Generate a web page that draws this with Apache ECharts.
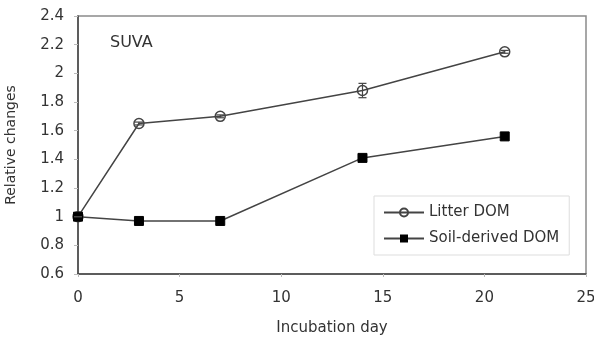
<!DOCTYPE html>
<html>
<head>
<meta charset="utf-8">
<script src="https://cdn.jsdelivr.net/npm/echarts@6/dist/echarts.min.js"></script>
<style>html,body{margin:0;padding:0;background:#fff;}#c{width:594px;height:341px;}</style>
</head>
<body>
<div id="c"></div>
<script>
var days = [0, 3, 7, 14, 21];
var litterDOM = [1.0, 1.65, 1.70, 1.88, 2.15];
var litterErr = [0, 0.01, 0.01, 0.05, 0.01];
var soilDOM = [1.0, 0.97, 0.97, 1.41, 1.56];
var xTicks = [0, 5, 10, 15, 20, 25];
var yTicks = [0.6, 0.8, 1.0, 1.2, 1.4, 1.6, 1.8, 2.0, 2.2, 2.4];

var chart = echarts.init(document.getElementById('c'));
var font = 'DejaVu Sans, sans-serif';
var errData = days.map(function (d, i) { return [d, litterDOM[i] - litterErr[i], litterDOM[i] + litterErr[i]]; });

chart.setOption({
  animation: false,
  textStyle: { fontFamily: font },
  grid: { left: 78, right: 8, top: 16, bottom: 67, show: true, borderColor: '#8a8a8a', borderWidth: 1.5,
          containLabel: false, outerBoundsMode: 'none' },
  xAxis: {
    type: 'value', min: xTicks[0], max: xTicks[xTicks.length - 1], interval: 5,
    name: 'Incubation day', nameLocation: 'middle', nameGap: 47,
    nameTextStyle: { fontSize: 15, color: '#333', fontFamily: font },
    axisLine: { lineStyle: { color: '#444', width: 1.5 } },
    axisTick: { show: true, length: 3, lineStyle: { color: '#bbb' } },
    axisLabel: { fontSize: 15, color: '#333', margin: 17, fontFamily: font },
    splitLine: { show: false }
  },
  yAxis: {
    type: 'value', min: yTicks[0], max: yTicks[yTicks.length - 1], interval: 0.2,
    name: 'Relative changes', nameLocation: 'middle', nameGap: 60,
    nameTextStyle: { fontSize: 14, color: '#333', fontFamily: font },
    axisLine: { show: true, lineStyle: { color: '#444', width: 1.5 } },
    axisTick: { show: true, length: 4, lineStyle: { color: '#bbb' } },
    axisLabel: { fontSize: 15, color: '#333', margin: 14, fontFamily: font, formatter: function (v) { return String(+v.toFixed(1)); } },
    splitLine: { show: false }
  },
  legend: {
    orient: 'vertical', left: 374, top: 196, itemGap: 11, itemWidth: 40, itemHeight: 10,
    padding: [9, 10, 9, 9],
    backgroundColor: '#fff', borderColor: '#ddd', borderWidth: 1,
    textStyle: { fontSize: 15, color: '#333', fontFamily: font },
    data: ['Litter DOM', 'Soil-derived DOM']
  },
  graphic: [{
    type: 'text', left: 110, top: 35,
    style: { text: 'SUVA', fontSize: 16, fill: '#333', fontFamily: font }
  }],
  series: [
    {
      name: 'Litter DOM', type: 'line',
      data: days.map(function (d, i) { return [d, litterDOM[i]]; }),
      symbol: 'circle', symbolSize: 10,
      lineStyle: { color: '#444', width: 1.5 },
      itemStyle: { color: 'rgba(255,255,255,0)', borderColor: '#444', borderWidth: 1.5 },
      z: 3
    },
    {
      name: 'Soil-derived DOM', type: 'line',
      data: days.map(function (d, i) { return [d, soilDOM[i]]; }),
      symbol: 'rect', symbolSize: 9,
      lineStyle: { color: '#444', width: 1.5 },
      itemStyle: { color: '#000', borderColor: '#000' },
      z: 3
    },
    {
      type: 'custom', name: 'err', silent: true,
      data: errData,
      renderItem: function (params, api) {
        var lo = api.coord([api.value(0), api.value(1)]);
        var hi = api.coord([api.value(0), api.value(2)]);
        var w = 4;
        var s = { stroke: '#444', lineWidth: 1.2 };
        return {
          type: 'group', children: [
            { type: 'line', shape: { x1: lo[0], y1: lo[1], x2: hi[0], y2: hi[1] }, style: s },
            { type: 'line', shape: { x1: lo[0] - w, y1: lo[1], x2: lo[0] + w, y2: lo[1] }, style: s },
            { type: 'line', shape: { x1: hi[0] - w, y1: hi[1], x2: hi[0] + w, y2: hi[1] }, style: s }
          ]
        };
      },
      z: 4
    }
  ]
});
</script>
</body>
</html>
